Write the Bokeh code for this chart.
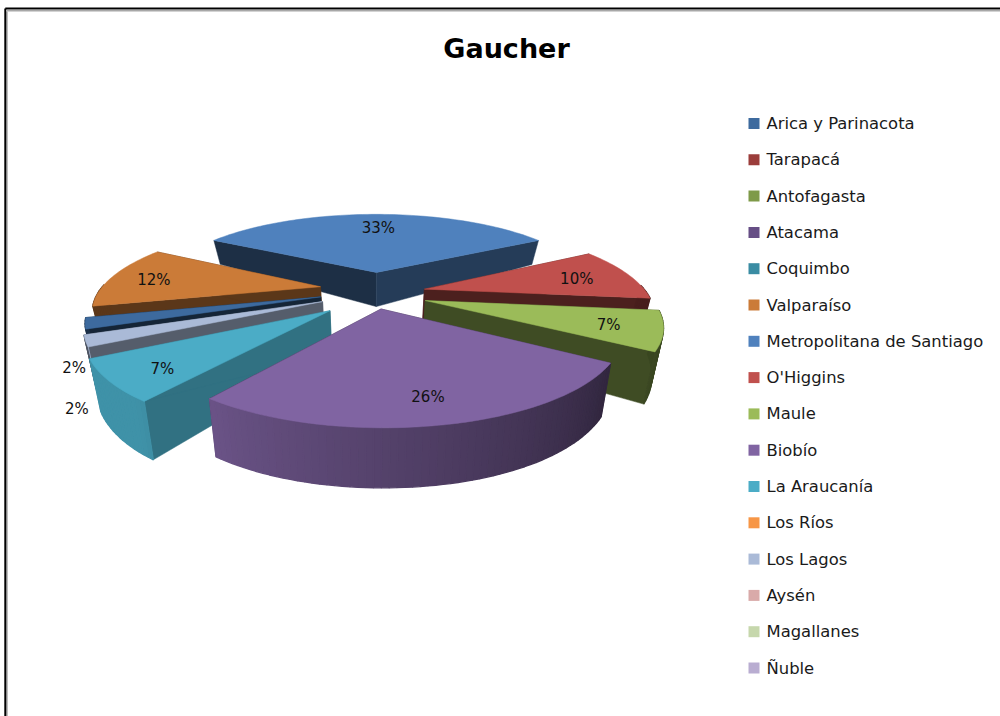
import numpy as np
from bokeh.plotting import figure
from bokeh.embed import file_html
from bokeh.resources import INLINE
from bokeh.core.properties import value

title = "Gaucher"
regions = ["Arica y Parinacota", "Tarapacá", "Antofagasta", "Atacama", "Coquimbo", "Valparaíso",
           "Metropolitana de Santiago", "O'Higgins", "Maule", "Biobío", "La Araucanía", "Los Ríos",
           "Los Lagos", "Aysén", "Magallanes", "Ñuble"]
percent = [2, 0, 0, 0, 0, 12, 33, 10, 7, 26, 7, 0, 2, 0, 0, 0]
colors = ["#3d6a9e", "#9b3d3b", "#7e9a48", "#664e85", "#3a8ca3", "#cb7b38",
          "#4f81bd", "#c0504d", "#9bbb59", "#8064a2", "#4bacc6", "#f79646",
          "#aabad7", "#d9aaa9", "#c6d7ac", "#b9add1"]

# projection of the tilted, exploded pie
CX, CY, R, EXPLODE, D, TILT, SHRINK = 373.0, 289.0, 220.0, 54.0, 920.0, 0.36, 0.96
FIRST_ANGLE = 256.4 - 7.27  # clockwise from the top, where the first slice (Arica) starts

# painter's order, wall shades (start wall, end wall), label placement (angle offset, radial fraction)
order = ["Metropolitana de Santiago", "Valparaíso", "O'Higgins", "Arica y Parinacota", "Los Lagos",
         "Maule", "La Araucanía", "Biobío"]
wall_shade = {"Metropolitana de Santiago": (0.37, 0.47), "Valparaíso": (0.45, 0.45), "O'Higgins": (0.40, 0.40),
              "Arica y Parinacota": (0.35, 0.35), "Los Lagos": (0.50, 0.50), "Maule": (0.41, 0.41),
              "La Araucanía": (0.66, 0.66), "Biobío": (0.40, 0.40)}
label_place = {"Metropolitana de Santiago": (1, 0.73), "Valparaíso": (-1.8, 0.79), "O'Higgins": (1.8, 0.733),
               "Arica y Parinacota": (-22.2, 1.12), "Los Lagos": (-26.9, 1.23), "Maule": (1, 0.786),
               "La Araucanía": (-2.5, 0.81), "Biobío": (-0.1, 0.81)}
# small extra displacement of single slices on the ground plane
nudge = {"Maule": (-1, 12), "O'Higgins": (-2, 10), "Biobío": (-3, -2), "La Araucanía": (0, 20),
         "Los Lagos": (0, 10), "Arica y Parinacota": (0, 4), "Metropolitana de Santiago": (3, 4)}


def project(X, Y, bottom=False):
    X, Y = np.asarray(X, float), np.asarray(Y, float)
    s = 1 / (1 - Y / D)
    dx, ry = X * s, TILT * Y * s
    if bottom:
        depth = 24 + 0.2545 * (ry + 49) - 0.000805 * (ry + 49) * (ry - 61)
        dx, ry = dx * SHRINK, ry + depth
    return CX + dx, CY + ry


def shade(col, f):
    r, g, b = (int(col[i:i + 2], 16) for i in (1, 3, 5))
    return "#%02x%02x%02x" % (int(r * f), int(g * f), int(b * f))


def rim(a, ax, ay, r=R):
    rad = np.radians(a)
    return ax + r * np.sin(rad), ay - r * np.cos(rad)


total = sum(percent)
spans, a0 = {}, FIRST_ANGLE
for name, v in zip(regions, percent):
    spans[name] = (a0, a0 + 360 * v / total)
    a0 += 360 * v / total

xs, ys, fills, widths = [], [], [], []
lab_x, lab_y, lab_t = [], [], []


def add(px, py, col, w=1.3):
    xs.append(list(px))
    ys.append(list(py))
    fills.append(col)
    widths.append(w)


for name in order:
    start, end = spans[name]
    col = colors[regions.index(name)]
    mid = np.radians((start + end) / 2)
    nx, ny = nudge.get(name, (0, 0))
    ax, ay = EXPLODE * np.sin(mid) + nx, -EXPLODE * np.cos(mid) + ny
    angles = np.linspace(start, end, max(3, int((end - start) / 1.5) + 1))
    rx, ry = rim(angles, ax, ay)
    # radial walls
    for a, f in zip((start, end), wall_shade[name]):
        ex, ey = rim(a, ax, ay)
        tx, ty = project([ax, ex], [ay, ey])
        bx, by = project([ax, ex], [ay, ey], True)
        add(list(tx) + list(bx[::-1]), list(ty) + list(by[::-1]), shade(col, f), 0.5)
    # outer wall, shaded along the arc
    for i in range(len(angles) - 1):
        a = (angles[i] + angles[i + 1]) / 2 % 360
        if not 88 <= a <= 272:
            continue
        f = 0.45 if a >= 245 else float(np.clip(0.38 + (a - 120) * 0.0047, 0.38, 0.85))
        tx, ty = project(rx[i:i + 2], ry[i:i + 2])
        bx, by = project(rx[i:i + 2], ry[i:i + 2], True)
        add(list(tx) + list(bx[::-1]), list(ty) + list(by[::-1]), shade(col, f))
    # top face
    tx, ty = project(np.r_[ax, rx], np.r_[ay, ry])
    add(tx, ty, col, 0.5)
    # label
    da, frac = label_place[name]
    lx, ly = rim((start + end) / 2 + da, ax, ay, R * frac)
    px, py = project(lx, ly)
    lab_x.append(float(px))
    lab_y.append(float(py))
    lab_t.append(f"{percent[regions.index(name)]}%")

p = figure(width=1000, height=716, x_range=(0, 1000), y_range=(716, 0), toolbar_location=None,
           output_backend="svg", min_border=0)
p.axis.visible = False
p.grid.visible = False
p.outline_line_color = None
p.background_fill_color = "white"

# frame of the picture
p.line([6.5, 6.5], [11, 716], line_color="#a8a8a8", line_width=1.5)
p.line([6.5, 1000], [10.2, 10.2], line_color="#a8a8a8", line_width=1.5)
p.line([4.8, 4.8], [8, 716], line_color="black", line_width=2)
p.line([4.8, 1000], [8, 8], line_color="black", line_width=2)

p.patches(xs, ys, fill_color=fills, line_color=fills, line_width=widths)

p.text(lab_x, lab_y, text=lab_t, text_font=value("DejaVu Sans"), text_font_size="15px", text_color="#111111",
       text_align="center", text_baseline="middle")

p.text([506], [48], text=[title], text_font=value("DejaVu Sans"), text_font_size="27px", text_font_style="bold",
       text_color="black", text_align="center", text_baseline="middle")

ly = [123 + 36.3 * i for i in range(len(regions))]
p.scatter([753.5] * len(regions), ly, size=11, marker="square", fill_color=colors, line_color=None)
p.text([766] * len(regions), ly, text=regions, text_font=value("DejaVu Sans"), text_font_size="16.4px",
       text_color="#1a1a1a", text_align="left", text_baseline="middle")

open("out.html", "w").write(file_html(p, INLINE))
